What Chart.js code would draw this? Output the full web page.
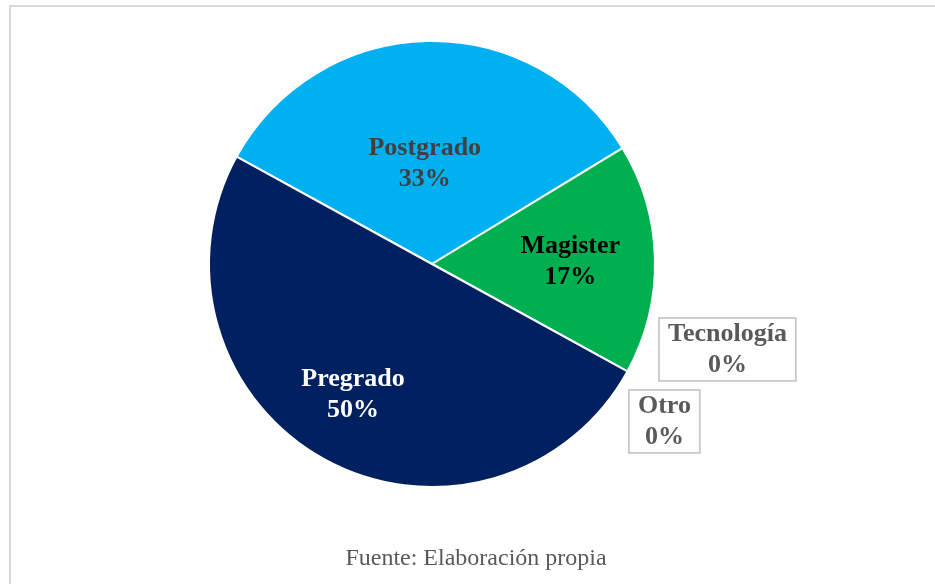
<!DOCTYPE html>
<html>
<head>
<meta charset="utf-8">
<script src="https://cdn.jsdelivr.net/npm/chart.js@4"></script>
<style>
  html, body { margin: 0; padding: 0; background: #fff; }
  #wrap { position: relative; width: 935px; height: 584px; overflow: hidden; }
  #frame { position: absolute; left: 9px; top: 5px; width: 940px; height: 600px;
           border-top: 2px solid #d9d9d9; border-left: 2px solid #d9d9d9; }
  #fuente { position: absolute; left: 0; width: 952px; top: 544px; text-align: center;
            font-family: "Liberation Serif", "Times New Roman", serif; font-size: 24px; color: #595959; }
  canvas { position: absolute; left: 0; top: 0; }
</style>
</head>
<body>
<div id="wrap">
  <div id="frame"></div>
  <canvas id="c" width="935" height="584"></canvas>
  <div id="fuente">Fuente: Elaboración propia</div>
</div>
<script>
// datos del gráfico
const categorias = ['Postgrado', 'Magister', 'Tecnología', 'Otro', 'Pregrado'];
const porcentajes = [33.3, 16.7, 0, 0, 50];
const colores = ['#00B0F0', '#00B050', '#7F7F7F', '#A5A5A5', '#002060'];

// estilo de las etiquetas (color del texto, distancia radial, desplazamiento)
const colorEtiqueta = ['#404040', '#000000', '#595959', '#595959', '#ffffff'];
const radioEtiqueta = [0.45, 0.62, 1, 1, 0.67];
const desplazamiento = [[-5, 0], [0, 0], [100, -22], [37, 50], [-7, -1]];
const conCaja = [false, false, true, true, false];

const etiquetasPlugin = {
  id: 'etiquetas',
  afterDatasetsDraw(chart) {
    const ctx = chart.ctx;
    const arcs = chart.getDatasetMeta(0).data;
    ctx.save();
    ctx.font = 'bold 26px "Liberation Serif", "Times New Roman", serif';
    ctx.textAlign = 'center';
    ctx.textBaseline = 'middle';
    arcs.forEach((arc, i) => {
      const p = arc.getProps(['x', 'y', 'startAngle', 'endAngle', 'outerRadius'], true);
      const mid = (p.startAngle + p.endAngle) / 2;
      const r = p.outerRadius * radioEtiqueta[i];
      const x = p.x + Math.cos(mid) * r + desplazamiento[i][0];
      const y = p.y + Math.sin(mid) * r + desplazamiento[i][1];
      const l1 = categorias[i];
      const l2 = Math.round(porcentajes[i]) + '%';
      if (conCaja[i]) {
        const w = Math.max(ctx.measureText(l1).width, ctx.measureText(l2).width) + 18;
        const h = 63;
        ctx.fillStyle = '#ffffff';
        ctx.fillRect(x - w / 2, y - h / 2, w, h);
        ctx.strokeStyle = '#bfbfbf';
        ctx.lineWidth = 1.5;
        ctx.strokeRect(x - w / 2, y - h / 2, w, h);
      }
      ctx.fillStyle = colorEtiqueta[i];
      ctx.fillText(l1, x, y - 15);
      ctx.fillText(l2, x, y + 16);
    });
    ctx.restore();
  }
};

new Chart(document.getElementById('c'), {
  type: 'pie',
  data: {
    labels: categorias,
    datasets: [{
      data: porcentajes,
      backgroundColor: colores,
      borderColor: '#ffffff',
      borderWidth: 2
    }]
  },
  options: {
    responsive: false,
    animation: false,
    rotation: -61.2,
    layout: { padding: { left: 208, right: 279, top: 40, bottom: 96 } },
    plugins: { legend: { display: false }, tooltip: { enabled: false } }
  },
  plugins: [etiquetasPlugin]
});
</script>
</body>
</html>
